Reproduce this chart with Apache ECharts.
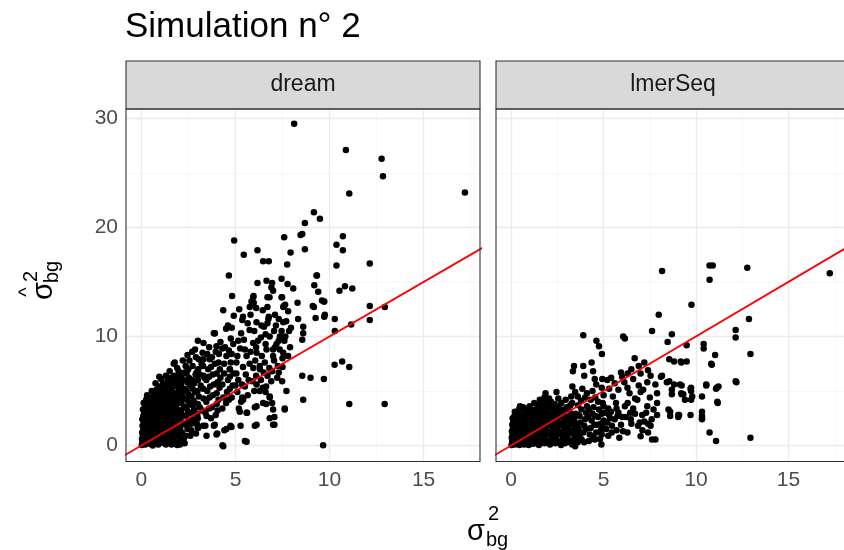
<!DOCTYPE html>
<html>
<head>
<meta charset="utf-8">
<script src="https://cdn.jsdelivr.net/npm/echarts@6/dist/echarts.min.js"></script>
<style>
  html, body { margin: 0; padding: 0; background: #fff; }
  #main { width: 844px; height: 550px; }
</style>
</head>
<body>
<div id="main"></div>
<script>
// tick values (ggplot theme_bw style)
const xMajor = [0, 5, 10, 15];
const xMinor = [2.5, 7.5, 12.5, 17.5];
const yMajor = [0, 10, 20, 30];
const yMinor = [5, 15, 25];
const panels = ['dream', 'lmerSeq'];
const identityLine = [[-1, -1], [20, 20]];

// sigma^2_bg (true) vs estimated
const dreamPoints = [
  [0.02,0.05],[0.05,0.3],[0.03,0.6],[0.08,0.9],[0.04,1.2],[0.1,1.5],[0.06,1.8],[0.12,2.1],[0.05,2.4],[0.1,2.7],[0.15,3.0],[0.08,3.3],[0.2,3.6],[0.12,3.9],[0.25,4.2],
  [0.2,0.1],[0.25,0.4],[0.3,0.7],[0.22,1.0],[0.28,1.3],[0.32,1.6],[0.26,1.9],[0.3,2.2],[0.35,2.5],[0.28,2.8],[0.38,3.1],[0.32,3.4],[0.4,3.7],[0.45,4.0],[0.35,4.4],
  [0.45,0.15],[0.5,0.45],[0.48,0.8],[0.55,1.1],[0.5,1.4],[0.58,1.7],[0.52,2.0],[0.6,2.3],[0.55,2.6],[0.62,2.9],[0.58,3.2],[0.65,3.5],[0.6,3.8],[0.68,4.1],[0.62,4.5],[0.7,4.8],
  [0.7,0.2],[0.75,0.55],[0.72,0.9],[0.8,1.2],[0.76,1.5],[0.82,1.8],[0.78,2.1],[0.85,2.4],[0.8,2.7],[0.88,3.0],[0.84,3.3],[0.9,3.6],[0.86,3.9],[0.92,4.2],[0.88,4.6],[0.95,5.0],[0.9,5.4],
  [0.95,0.3],[1.0,0.65],[0.98,1.0],[1.05,1.3],[1.02,1.6],[1.08,1.9],[1.04,2.2],[1.1,2.5],[1.06,2.8],[1.12,3.1],[1.08,3.4],[1.15,3.7],[1.1,4.0],[1.18,4.4],[1.12,4.8],[1.2,5.2],[1.15,5.7],[1.05,6.1],
  [1.2,0.4],[1.25,0.8],[1.3,1.2],[1.28,1.6],[1.35,2.0],[1.3,2.4],[1.38,2.8],[1.32,3.2],[1.4,3.6],[1.36,4.0],[1.42,4.5],[1.38,5.0],[1.45,5.5],[1.4,6.0],[1.3,6.4],
  [1.5,0.5],[1.55,0.9],[1.6,1.4],[1.58,1.9],[1.65,2.4],[1.6,2.9],[1.68,3.4],[1.62,3.9],[1.7,4.4],[1.66,4.9],[1.72,5.4],[1.68,5.9],[1.75,6.4],[1.77,7.6],
  [1.8,0.3],[1.85,0.9],[1.9,1.5],[1.88,2.1],[1.95,2.7],[1.9,3.3],[1.98,3.9],[1.92,4.5],[2.0,5.1],[1.96,5.7],[2.02,6.3],[1.98,6.8],
  [2.1,0.4],[2.15,1.2],[2.2,2.0],[2.18,2.8],[2.25,3.6],[2.2,4.4],[2.28,5.2],[2.22,6.0],[2.3,6.7],[2.35,7.3],
  [2.45,1.5],[2.5,2.3],[2.48,3.1],[2.55,3.9],[2.5,4.7],[2.58,5.5],[2.52,6.2],[2.48,7.0],[2.55,7.8],
  [2.75,2.4],[2.8,3.3],[2.78,4.1],[2.85,4.9],[2.8,5.7],[2.88,6.5],[2.93,6.7],[2.9,8.1],[2.85,8.8],
  [0.12,0.2],[0.14,0.75],[0.15,1.35],[0.16,1.95],[0.17,2.55],[0.18,3.15],[0.2,3.8],[0.3,4.6],
  [0.38,0.3],[0.4,0.9],[0.42,1.5],[0.4,2.05],[0.44,2.7],[0.46,3.3],[0.5,4.3],[0.55,5.0],
  [0.62,0.35],[0.65,0.95],[0.66,1.55],[0.68,2.15],[0.7,2.75],[0.72,3.35],[0.75,3.95],[0.78,4.5],[0.8,5.1],[0.75,5.7],
  [0.88,0.45],[0.9,1.05],[0.92,1.65],[0.94,2.25],[0.96,2.85],[0.98,3.45],[1.0,4.1],[1.02,4.7],[1.0,5.3],[0.95,6.3],
  [1.15,0.25],[1.16,1.05],[1.18,1.75],[1.2,2.35],[1.22,2.95],[1.24,3.55],[1.26,4.2],[1.28,4.8],[1.3,5.6],
  [1.45,0.3],[1.44,1.15],[1.46,1.7],[1.48,2.2],[1.5,2.7],[1.52,3.2],[1.55,3.7],[1.56,4.2],[1.58,4.7],[1.55,5.3],[1.6,6.2],[1.5,6.8],
  [1.72,0.7],[1.75,1.2],[1.76,1.7],[1.78,2.3],[1.8,2.9],[1.82,3.6],[1.84,4.2],[1.86,4.8],[1.85,5.5],[1.88,6.1],[1.9,7.1],
  [2.05,0.7],[2.06,1.6],[2.08,2.4],[2.1,3.2],[2.12,4.0],[2.14,4.8],[2.1,5.6],[2.15,6.5],[2.2,7.8],
  [2.35,0.9],[2.36,1.9],[2.38,2.7],[2.4,3.4],[2.42,4.2],[2.4,5.0],[2.44,5.8],[2.4,6.6],[2.45,8.3],
  [2.65,1.4],[2.65,2.0],[2.68,2.9],[2.7,3.7],[2.66,4.5],[2.72,5.2],[2.7,6.0],[2.72,7.3],[2.7,8.6],
  [2.95,2.0],[2.98,2.9],[3.0,3.8],[2.98,5.0],[3.0,6.0],[3.02,7.0],[3.05,7.9],[3.0,9.6],
  [0.6,0.0],[0.9,0.1],[1.3,0.1],[1.6,0.1],[1.9,0.05],[2.05,0.1],[2.3,0.2],[1.7,0.2],[2.1,0.2],[2.25,0.6],[2.0,1.0],[2.6,0.9],[2.9,1.1],
  [3.01,1.6],[3.28,1.8],[3.46,2.7],[3.46,0.9],[3.9,1.9],[3.99,1.0],[4.35,-0.06],[4.52,1.5],[4.79,1.7],[5.5,0.4],[6.03,1.8],[2.99,1.7],[3.40,1.8],
  [3.85,1.8],[4.03,1.1],[4.41,1.4],[4.73,1.8],[5.27,1.8],[4.31,0.03],[5.59,0.34],[9.66,0.03],
  [3.0,2.5],[3.1,3.5],[3.05,4.5],[3.15,5.5],[3.1,6.5],[3.2,7.5],[3.25,8.5],[3.3,9.4],[3.4,3.0],[3.45,4.0],[3.5,5.0],[3.45,6.0],[3.55,7.0],[3.5,8.4],[3.6,9.0],
  [3.7,2.5],[3.75,3.5],[3.8,4.6],[3.85,5.6],[3.8,6.5],[3.9,7.5],[3.95,8.6],[3.9,10.3],[3.99,9.1],
  [3.25,3.2],[3.3,4.3],[3.28,5.2],[3.35,6.2],[3.3,7.9],[3.6,3.4],[3.62,4.4],[3.65,5.4],[3.6,6.3],[3.7,7.2],[3.75,8.1],
  [3.95,2.8],[4.0,3.8],[4.0,4.8],[4.05,5.8],[4.0,6.6],[4.1,7.6],[4.12,8.4],[4.2,9.5],
  [4.3,3.4],[4.35,4.4],[4.3,5.6],[4.4,6.6],[4.4,7.5],[4.45,9.0],[4.5,10.7],
  [4.65,4.2],[4.7,5.2],[4.7,6.3],[4.75,7.6],[4.8,8.4],[4.6,11.0],
  [4.05,3.2],[4.1,4.2],[4.15,5.3],[4.2,6.2],[4.17,7.0],[4.3,8.9],[4.35,12.4],[4.5,3.9],[4.55,4.9],[4.6,6.0],[4.52,8.2],[4.65,8.7],[4.7,7.0],
  [4.8,4.4],[4.85,5.5],[4.9,6.6],[4.88,9.3],[4.8,10.8],[4.91,11.9],[4.82,13.7],[4.93,18.8],[4.65,15.6],[4.75,9.8],[3.85,10.3],
  [5.0,5.5],[5.05,6.6],[5.1,8.2],[5.15,9.6],[5.2,12.5],[5.3,4.0],[5.35,5.6],[5.4,7.2],[5.45,9.7],[5.4,11.8],
  [5.65,4.6],[5.7,6.0],[5.75,7.5],[5.8,8.6],[5.65,11.2],[6.0,5.0],[6.05,7.8],[6.1,9.0],[6.0,10.5],[6.1,12.6],
  [6.35,6.0],[6.3,7.0],[6.4,8.2],[6.35,9.9],[6.45,12.4],[6.6,4.9],[6.7,6.4],[6.6,10.2],[6.7,11.2],
  [6.95,6.8],[7.0,8.8],[7.05,10.5],[7.1,12.0],[7.25,7.3],[7.3,9.6],[7.3,11.6],[7.45,10.5],[7.5,8.0],[7.65,10.0],[7.8,12.3],[7.95,10.8],
  [5.1,4.9],[5.15,6.0],[5.05,7.6],[5.25,8.9],[5.3,10.3],[5.36,11.5],[5.5,5.4],[5.55,6.5],[5.59,8.2],[5.5,8.8],[5.75,10.6],[5.8,12.0],[5.9,5.9],[5.95,7.1],[5.94,9.4],
  [5.41,4.2],[6.03,3.5],[6.47,3.9],[7.0,3.3],[7.62,3.3],[5.23,3.1],[5.59,3.0],[6.82,2.5],[7.0,1.9],[6.12,3.6],[6.12,1.9],[7.07,2.6],[7.07,1.9],[7.62,3.4],
  [6.63,3.8],[6.82,4.4],[6.95,3.9],[5.36,4.4],[5.18,3.4],[5.62,3.0],[6.29,5.0],[7.48,5.9],[6.63,5.4],[7.22,6.2],[6.12,5.6],[6.82,4.5],[7.71,5.0],[8.6,4.2],
  [6.12,8.5],[6.29,7.3],[6.56,7.6],[6.65,8.8],[6.82,10.0],[7.0,8.2],[7.18,9.3],[7.36,10.0],[7.54,8.5],[7.8,8.2],
  [6.1,6.4],[6.2,9.6],[6.12,11.3],[6.38,11.0],[6.52,10.9],[6.45,5.3],[6.5,6.7],[6.6,9.3],[6.75,11.6],[6.8,7.1],[6.9,5.9],[6.77,11.8],
  [7.05,7.8],[7.1,9.0],[7.15,11.0],[7.3,6.7],[7.35,8.8],[7.54,11.3],[7.5,7.2],[7.6,9.6],[7.7,11.4],[7.85,10.5],[7.9,9.0],[7.64,12.9],
  [5.94,13.6],[5.85,13.2],[5.76,12.7],[6.70,13.6],[6.70,12.7],[7.45,13.6],[7.54,12.7],[8.30,13.1],[8.33,11.6],[9.17,12.7],[9.26,11.7],[9.72,13.2],[9.72,11.8],
  [8.60,10.9],[8.60,10.3],[8.55,9.7],[9.11,12.8],[9.70,13.2],[9.75,12.0],
  [6.17,14.9],[6.65,15.1],[6.95,14.9],[7.0,14.2],[6.91,14.5],[7.45,15.3],[7.77,14.8],[8.07,14.4],[9.31,15.6],[9.19,14.7],[9.4,14.1],
  [5.96,13.7],[6.81,13.6],[7.48,13.6],[7.57,12.8],[5.97,13.1],[9.6,13.3],
  [5.44,17.5],[6.17,17.9],[6.47,16.9],[6.77,16.9],[7.59,19.1],[8.46,19.3],[8.69,20.4],[7.93,17.7],[8.69,18.0],[7.75,16.6],[10.37,16.5],
  [8.12,29.5],[10.87,27.1],[12.77,26.3],[12.84,24.7],[11.05,23.1],[17.2,23.2],[9.17,21.4],[9.49,20.8],[8.55,19.4],
  [10.71,19.2],[10.37,18.4],[10.71,17.9],[12.14,16.7],[9.33,15.6],[10.53,14.2],[10.82,14.6],[11.21,14.4],
  [12.14,12.8],[12.94,12.7],[10.28,11.6],[11.15,11.1],[12.14,11.5],[10.28,10.5],
  [10.27,7.4],[10.67,7.7],[11.05,7.2],[8.55,6.4],[8.99,6.2],[9.7,6.1],[11.05,3.8],[12.93,3.8],
  [1.72,7.5],[2.48,7.0],[3.28,7.3],[3.31,6.4],[3.63,7.9],[3.90,10.3],[4.70,7.0]
];

const lmerPoints = [
  [0.02,0.05],[0.05,0.35],[0.03,0.7],[0.08,1.0],[0.04,1.3],[0.1,1.6],[0.06,1.9],[0.12,2.2],[0.08,2.5],
  [0.2,0.1],[0.25,0.4],[0.22,0.75],[0.28,1.05],[0.24,1.4],[0.3,1.7],[0.26,2.0],[0.32,2.3],[0.28,2.6],[0.35,2.9],
  [0.45,0.05],[0.5,0.3],[0.48,0.65],[0.55,0.95],[0.5,1.3],[0.58,1.6],[0.52,1.9],[0.6,2.2],[0.55,2.5],[0.62,2.8],[0.48,3.6],
  [0.7,0.1],[0.75,0.4],[0.72,0.75],[0.8,1.05],[0.76,1.4],[0.82,1.7],[0.78,2.0],[0.85,2.3],[0.8,2.6],[0.88,2.9],[0.89,3.3],
  [0.95,0.05],[1.0,0.35],[0.98,0.7],[1.05,1.0],[1.02,1.35],[1.08,1.65],[1.04,2.0],[1.1,2.3],[1.06,2.6],[1.12,2.95],[1.1,3.3],
  [1.2,0.15],[1.25,0.5],[1.3,0.85],[1.28,1.2],[1.35,1.55],[1.3,1.9],[1.38,2.25],[1.32,2.6],[1.4,2.95],[1.36,3.3],[1.42,3.7],
  [1.5,0.05],[1.55,0.4],[1.6,0.8],[1.58,1.15],[1.65,1.5],[1.6,1.9],[1.68,2.3],[1.62,2.7],[1.7,3.1],[1.66,3.5],[1.72,4.0],[1.86,4.8],
  [1.8,0.2],[1.85,0.6],[1.9,1.0],[1.88,1.4],[1.95,1.8],[1.9,2.2],[1.98,2.6],[1.92,3.0],[2.0,3.4],[1.96,3.9],[2.05,4.3],
  [2.1,0.1],[2.15,0.5],[2.2,0.9],[2.18,1.3],[2.25,1.7],[2.2,2.1],[2.28,2.5],[2.22,2.9],[2.3,3.3],[2.35,3.8],[2.45,4.9],
  [2.4,0.2],[2.45,0.6],[2.5,1.0],[2.48,1.4],[2.55,1.8],[2.5,2.2],[2.58,2.6],[2.52,3.0],[2.6,3.5],[2.71,3.9],
  [2.7,0.05],[2.75,0.45],[2.8,0.9],[2.78,1.3],[2.85,1.7],[2.8,2.1],[2.88,2.5],[2.82,2.9],[2.9,3.3],
  [3.0,0.3],[3.05,0.7],[3.1,1.1],[3.08,1.5],[3.15,1.9],[3.1,2.3],[3.18,2.7],[3.12,3.2],[3.2,3.7],[3.31,5.4],[3.34,6.8],[3.40,7.3],
  [3.3,0.1],[3.35,0.5],[3.4,1.0],[3.38,1.4],[3.45,1.8],[3.4,2.4],[3.48,2.9],[3.46,4.9],[3.46,-0.06],
  [0.12,0.2],[0.14,0.85],[0.15,1.45],[0.16,2.05],[0.18,2.7],[0.2,3.1],
  [0.38,0.2],[0.4,0.85],[0.42,1.5],[0.4,2.1],[0.44,2.7],[0.42,3.3],
  [0.62,0.2],[0.65,0.85],[0.66,1.45],[0.68,2.05],[0.7,2.6],[0.72,3.1],[0.65,3.5],
  [0.88,0.2],[0.9,0.55],[0.92,1.2],[0.94,1.8],[0.96,2.45],[0.98,3.1],[1.0,3.6],
  [1.15,0.3],[1.16,0.9],[1.18,1.5],[1.2,2.1],[1.22,2.7],[1.24,3.2],[1.25,3.9],
  [1.45,0.25],[1.44,0.95],[1.46,1.7],[1.48,2.4],[1.5,3.1],[1.52,3.6],[1.55,4.2],
  [1.72,0.35],[1.75,1.0],[1.76,1.7],[1.78,2.5],[1.8,3.2],[1.82,3.8],[1.8,4.4],
  [2.0,0.3],[2.02,1.1],[2.05,1.9],[2.08,2.7],[2.1,3.6],[2.15,4.0],
  [2.3,0.4],[2.32,1.2],[2.35,2.0],[2.38,2.8],[2.4,3.5],[2.55,4.3],
  [2.6,0.3],[2.62,1.1],[2.65,1.9],[2.68,2.7],[2.7,3.2],
  [2.9,0.2],[2.92,1.0],[2.95,1.8],[2.98,2.6],[3.0,3.5],[2.95,4.2],
  [3.2,0.3],[3.22,1.2],[3.25,2.0],[3.28,2.9],[3.3,3.9],[3.25,4.5],
  [3.55,0.6],[3.55,1.2],[3.58,2.0],[3.6,2.8],[3.62,3.7],[3.6,4.5],
  [3.95,0.3],[4.05,1.5],[4.15,2.6],[4.2,3.3],[4.1,4.8],[4.45,0.8],[4.5,1.9],[4.55,2.7],[4.55,4.4],
  [4.8,0.6],[4.85,1.4],[4.85,2.0],[4.9,2.9],[4.95,3.9],[5.25,0.9],[5.35,2.5],[5.4,3.1],[5.45,1.8],[5.7,1.4],[5.75,2.7],[5.7,3.4],
  [6.0,2.6],[6.05,1.3],[6.3,3.9],[6.5,2.0],[6.7,2.9],[6.95,2.1],[7.1,1.4],[7.3,3.0],[7.4,2.0],
  [3.6,0.3],[3.7,0.9],[3.65,1.5],[3.75,2.1],[3.7,2.7],[3.8,3.3],[3.78,4.1],[3.85,5.2],[3.81,0.55],[3.9,1.2],[3.95,1.8],[4.0,2.4],[4.05,3.0],[4.1,3.6],[4.0,4.4],
  [4.2,0.4],[4.25,1.0],[4.3,1.6],[4.35,2.3],[4.4,2.9],[4.45,3.5],[4.3,4.2],[4.52,0.55],[4.6,1.2],[4.65,1.9],[4.7,2.6],[4.75,3.3],[4.7,4.0],
  [4.88,0.1],[4.9,1.0],[4.95,1.7],[5.0,2.3],[5.05,3.0],[5.0,3.6],[5.14,1.5],[5.2,2.1],[5.3,2.8],[5.25,3.4],[5.44,1.2],[5.5,4.5],[5.67,3.9],
  [5.6,2.4],[5.8,3.0],[5.85,0.7],[5.94,1.9],[6.15,3.6],[6.44,3.0],[6.47,2.4],[6.29,1.2],[6.86,1.8],[7.0,0.85],[7.54,1.8],[7.62,0.55],[7.80,0.55],
  [3.90,10.1],[4.61,9.6],[4.75,9.1],[4.91,8.4],[6.68,8.0],[8.46,9.5],[6.06,10.0],[6.15,9.8],
  [3.90,7.3],[4.35,7.6],[3.95,6.4],[4.43,6.8],[4.52,6.1],[4.93,6.1],
  [5.41,6.2],[5.94,6.7],[6.12,5.8],[6.29,5.3],[4.4,5.0],[4.6,5.6],[4.9,5.3],[5.2,6.0],[5.3,5.2],[5.6,5.7],[5.8,5.1],
  [6.0,6.3],[6.3,6.6],[6.5,7.0],[6.6,6.1],[6.9,7.3],[7.0,6.6],[7.2,7.6],[7.4,6.9],[5.0,4.6],[6.4,4.8],[6.7,4.3],[7.0,4.9],[6.9,5.5],
  [7.5,4.4],[7.7,3.3],[6.2,2.6],[6.6,3.4],[7.2,2.2],[7.6,2.4],[7.4,1.2],
  [7.89,3.9],[7.89,4.8],[7.80,5.6],[7.54,6.4],[8.16,6.4],[8.42,5.8],[8.69,5.1],[9.13,5.6],[9.31,4.7],[9.40,4.2],
  [8.51,3.3],[8.60,2.7],[9.04,2.6],[7.89,2.8],[7.36,3.6],[7.09,2.8],[6.82,4.2],[7.14,5.1],[7.36,5.8],
  [8.10,6.3],[8.55,5.9],[8.81,5.6],[9.22,5.5],[8.69,4.7],[9.22,4.7],[9.70,5.2],[9.79,4.5],[10.32,4.5],[10.55,5.5],[11.12,5.3],[11.15,4.0],[12.14,5.9],
  [8.60,3.1],[9.04,2.8],[9.70,2.8],[10.32,3.1],[10.32,2.5],[10.73,1.2],[11.08,0.4],[12.94,0.7],
  [8.55,7.9],[8.81,7.7],[9.17,7.7],[9.49,7.7],[9.2,7.6],[10.85,7.4],[11.03,8.3],[10.82,7.5],[12.94,8.4],
  [9.49,9.2],[10.41,9.3],[10.41,8.9],[12.14,10.6],[12.14,9.9],[8.69,10.2],[7.62,10.5],[7.98,12.0],[9.75,12.9],[12.86,11.6],
  [9.2,4.8],[9.73,5.3],[9.73,5.0],[9.73,4.2],[10.55,5.6],[11.08,5.2],[11.21,5.4],[12.18,5.8],[11.17,3.9],[9.08,2.8],[10.32,2.7],[10.32,2.4],
  [8.16,16.0],[10.73,16.5],[10.9,16.5],[10.73,15.2],[12.77,16.3],[17.23,15.8]
];

const chart = echarts.init(document.getElementById('main'));
const font = 'Liberation Sans, Arial, sans-serif';
const panelLeft = [126, 496];
const panelTop = 109;
const panelW = 354;
const panelH = 352.5;

const major = { color: '#EBEBEB', width: 1.3, type: 'solid' };
const minor = { color: '#F4F4F4', width: 0.7, type: 'solid' };
const gridLineData = [].concat(
  xMinor.map(v => ({ xAxis: v, lineStyle: minor })),
  yMinor.map(v => ({ yAxis: v, lineStyle: minor })),
  xMajor.map(v => ({ xAxis: v, lineStyle: major })),
  yMajor.map(v => ({ yAxis: v, lineStyle: major }))
);

const allPoints = [dreamPoints, lmerPoints];
const series = [];
panels.forEach((name, i) => {
  series.push({
    type: 'line', xAxisIndex: i, yAxisIndex: i, data: [], z: 1, silent: true,
    markLine: {
      z: 1, silent: true, symbol: ['none', 'none'], label: { show: false }, animation: false,
      lineStyle: { type: 'solid' }, emphasis: { disabled: true }, data: gridLineData
    }
  });
  series.push({
    name: name, type: 'scatter', xAxisIndex: i, yAxisIndex: i, z: 3,
    symbolSize: 6.5, itemStyle: { color: '#000000', opacity: 1 },
    data: allPoints[i]
  });
  series.push({
    type: 'line', xAxisIndex: i, yAxisIndex: i, z: 4, clip: true, silent: true,
    symbol: 'none', lineStyle: { color: '#FF0000', width: 1.9 },
    data: identityLine
  });
});

const option = {
  animation: false,
  backgroundColor: '#ffffff',
  textStyle: { fontFamily: font },
  grid: panelLeft.map(l => ({ left: l, top: panelTop, width: panelW, height: panelH, show: true, backgroundColor: '#ffffff', borderWidth: 0 })),
  xAxis: panels.map((p, i) => ({
    gridIndex: i, type: 'value', min: -0.82, max: 18.0,
    axisLine: { show: false }, splitLine: { show: false },
    axisTick: { show: true, customValues: xMajor, length: 5, lineStyle: { color: '#333333', width: 1.1 } },
    axisLabel: { customValues: xMajor, fontSize: 21, color: '#4D4D4D', margin: 8, fontFamily: font }
  })),
  yAxis: panels.map((p, i) => ({
    gridIndex: i, type: 'value', min: -1.47, max: 30.86,
    axisLine: { show: false }, splitLine: { show: false },
    axisTick: { show: i === 0, customValues: yMajor, length: 5, lineStyle: { color: '#333333', width: 1.1 } },
    axisLabel: { show: i === 0, customValues: yMajor, fontSize: 21, color: '#4D4D4D', margin: 8, fontFamily: font }
  })),
  graphic: [
    { type: 'text', left: 125, top: 10, z: 10, style: { text: 'Simulation n° 2', fontSize: 35, fill: '#000000', fontFamily: font } },
    // strips + panel borders
    ...panelLeft.map(l => ({
      type: 'rect', z: 10, shape: { x: l, y: 61, width: panelW, height: panelTop - 61 },
      style: { fill: '#D9D9D9', stroke: '#333333', lineWidth: 1.1 }
    })),
    ...panelLeft.map((l, i) => ({
      type: 'text', z: 11, x: l + panelW / 2, y: 85,
      style: { text: panels[i], fontSize: 23, fill: '#1A1A1A', fontFamily: font, align: 'center', verticalAlign: 'middle' }
    })),
    ...panelLeft.map(l => ({
      type: 'rect', z: 10, shape: { x: l, y: panelTop, width: panelW, height: panelH },
      style: { fill: 'none', stroke: '#333333', lineWidth: 1.1 }
    })),
    // x axis title: sigma^2_bg
    { type: 'text', z: 10, x: 476, y: 532, style: { text: 'σ', fontSize: 29, fill: '#000', fontFamily: font, align: 'center', verticalAlign: 'middle' } },
    { type: 'text', z: 10, x: 488, y: 514, style: { text: '2', fontSize: 20, fill: '#000', fontFamily: font, align: 'left', verticalAlign: 'middle' } },
    { type: 'text', z: 10, x: 486, y: 540, style: { text: 'bg', fontSize: 20, fill: '#000', fontFamily: font, align: 'left', verticalAlign: 'middle' } },
    // y axis title: hat(sigma)^2_bg, rotated
    {
      type: 'group', x: 46, y: 300, rotation: Math.PI / 2, z: 10,
      children: [
        { type: 'text', x: 0, y: -2, style: { text: 'σ', fontSize: 29, fill: '#000', fontFamily: font, align: 'left', verticalAlign: 'middle' } },
        { type: 'text', x: 8, y: -19, style: { text: '^', fontSize: 20, fill: '#000', fontFamily: font, align: 'center', verticalAlign: 'middle' } },
        { type: 'text', x: 18, y: -15, style: { text: '2', fontSize: 20, fill: '#000', fontFamily: font, align: 'left', verticalAlign: 'middle' } },
        { type: 'text', x: 17, y: 6, style: { text: 'bg', fontSize: 20, fill: '#000', fontFamily: font, align: 'left', verticalAlign: 'middle' } }
      ]
    }
  ],
  series: series
};

chart.setOption(option);
</script>
</body>
</html>
